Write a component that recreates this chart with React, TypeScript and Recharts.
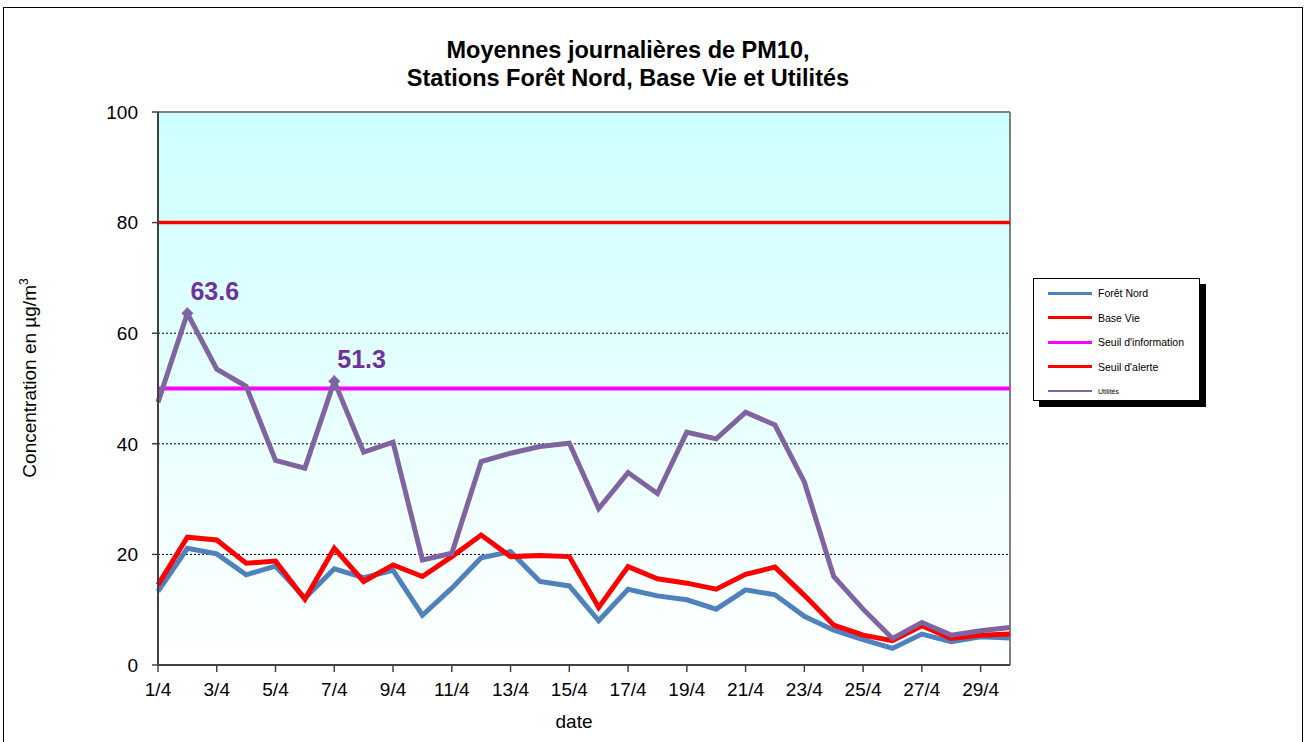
import { LineChart, Line, XAxis, YAxis, CartesianGrid, ReferenceLine } from "recharts"

const days = [
  "1/4", "2/4", "3/4", "4/4", "5/4", "6/4", "7/4", "8/4", "9/4", "10/4",
  "11/4", "12/4", "13/4", "14/4", "15/4", "16/4", "17/4", "18/4", "19/4", "20/4",
  "21/4", "22/4", "23/4", "24/4", "25/4", "26/4", "27/4", "28/4", "29/4", "30/4",
]

const foretNord = [
  13.3, 21.1, 20.1, 16.3, 17.9, 12.1, 17.4, 15.8, 17.1, 9.0,
  13.9, 19.4, 20.5, 15.1, 14.3, 8.0, 13.7, 12.5, 11.8, 10.1,
  13.6, 12.7, 8.8, 6.3, 4.6, 3.0, 5.6, 4.2, 5.1, 4.9,
]

const baseVie = [
  14.5, 23.1, 22.6, 18.4, 18.8, 11.9, 21.1, 15.1, 18.1, 16.0,
  19.6, 23.5, 19.6, 19.8, 19.6, 10.4, 17.8, 15.6, 14.8, 13.7,
  16.4, 17.7, 12.6, 7.2, 5.4, 4.4, 7.1, 4.8, 5.4, 5.6,
]

const utilites = [
  47.5, 63.6, 53.5, 50.4, 37.0, 35.6, 51.3, 38.5, 40.3, 19.0,
  20.2, 36.8, 38.3, 39.5, 40.1, 28.3, 34.8, 31.0, 42.1, 40.9,
  45.7, 43.4, 33.1, 16.0, 10.1, 4.8, 7.7, 5.4, 6.2, 6.8,
]

const labeledDays = ["2/4", "7/4"]
const yTicks = [0, 20, 40, 60, 80, 100]
const seuilInformation = 50
const seuilAlerte = 80

const legendItems = [
  { name: "Forêt Nord", color: "#4F81BD" },
  { name: "Base Vie", color: "#FF0000" },
  { name: "Seuil d'information", color: "#FF00FF" },
  { name: "Seuil d'alerte", color: "#FF0000" },
  { name: "Utilités", color: "#8064A2", small: true },
]

const data = days.map((day, i) => ({
  day,
  foretNord: foretNord[i],
  baseVie: baseVie[i],
  utilites: utilites[i],
}))

const font = "'Liberation Sans', Arial, sans-serif"

// diamond marker + value only on the annotated peaks
function PeakDot(props: any) {
  const { cx, cy, payload, value } = props
  if (!labeledDays.includes(payload.day)) return <g key={payload.day} />
  const s = 6
  return (
    <g key={payload.day}>
      <path d={`M${cx},${cy - s} L${cx + s},${cy} L${cx},${cy + s} L${cx - s},${cy} Z`} fill="#8064A2" />
      <text x={cx + 3} y={cy - 13} fill="#7030A0" fontSize={25} fontWeight="bold" fontFamily={font}>
        {value.toFixed(1)}
      </text>
    </g>
  )
}

function ChartLegend() {
  return (
    <div
      style={{
        position: "absolute",
        left: 1033,
        top: 278,
        width: 167,
        height: 123,
        border: "1px solid #000",
        background: "#fff",
        boxShadow: "6px 6px 0 #000",
        fontFamily: font,
        paddingTop: 2,
        boxSizing: "border-box",
      }}
    >
      {legendItems.map((item) => (
        <div key={item.name} style={{ display: "flex", alignItems: "center", height: 24.5, paddingLeft: 14 }}>
          <div style={{ width: 44, height: item.small ? 2 : 3, background: item.color, marginRight: 6 }} />
          <span style={{ fontSize: item.small ? 7 : 10.5, color: "#000" }}>{item.name}</span>
        </div>
      ))}
    </div>
  )
}

export default function App() {
  return (
    <div style={{ position: "relative", width: 1304, height: 742, overflow: "hidden", background: "#fff" }}>
      <style>{"body{margin:0}"}</style>
      <div
        style={{
          position: "absolute",
          left: 3,
          top: 7,
          width: 1300,
          height: 760,
          border: "1px solid #000",
          boxSizing: "border-box",
        }}
      />
      <div
        style={{
          position: "absolute",
          left: 0,
          width: 1256,
          top: 36,
          textAlign: "center",
          fontFamily: font,
          fontWeight: "bold",
          fontSize: 23.5,
          lineHeight: "28px",
          color: "#000",
        }}
      >
        Moyennes journalières de PM10,
        <br />
        Stations Forêt Nord, Base Vie et Utilités
      </div>
      <div
        style={{
          position: "absolute",
          left: 29,
          top: 378,
          transform: "translate(-50%, -50%) rotate(-90deg)",
          whiteSpace: "nowrap",
          fontFamily: font,
          fontSize: 19,
          color: "#000",
        }}
      >
        Concentration en µg/m<sup style={{ fontSize: 12 }}>3</sup>
      </div>
      <div
        style={{
          position: "absolute",
          left: 574,
          top: 722,
          transform: "translate(-50%, -50%)",
          fontFamily: font,
          fontSize: 19,
          color: "#000",
        }}
      >
        date
      </div>
      <LineChart
        width={1304}
        height={742}
        data={data}
        margin={{ top: 112, right: 294, bottom: 27, left: 98 }}
        style={{ position: "absolute", left: 0, top: 0 }}
      >
        <defs>
          <linearGradient id="plotBg" x1="0" y1="0" x2="0" y2="1">
            <stop offset="0%" stopColor="#CCFFFF" />
            <stop offset="100%" stopColor="#FFFFFF" />
          </linearGradient>
        </defs>
        <CartesianGrid
          vertical={false}
          stroke="#000"
          strokeDasharray="2 2"
          fill="url(#plotBg)"
          fillOpacity={1}
        />
        <XAxis
          dataKey="day"
          interval={1}
          tickSize={7}
          tickMargin={11}
          height={50}
          axisLine={{ stroke: "#404040", strokeWidth: 2 }}
          tickLine={{ stroke: "#404040", strokeWidth: 1.5 }}
          tick={{ fontSize: 19, fill: "#000", fontFamily: font }}
        />
        <YAxis
          domain={[0, 100]}
          ticks={yTicks}
          width={60}
          tickSize={6}
          tickMargin={14}
          axisLine={{ stroke: "#404040", strokeWidth: 2 }}
          tickLine={{ stroke: "#404040", strokeWidth: 1.5 }}
          tick={{ fontSize: 19, fill: "#000", fontFamily: font }}
        />
        <ReferenceLine y={100} stroke="#808080" strokeWidth={2} />
        <ReferenceLine x={days[days.length - 1]} stroke="#808080" strokeWidth={2} />
        <ReferenceLine y={seuilAlerte} stroke="#FF0000" strokeWidth={3.5} />
        <ReferenceLine y={seuilInformation} stroke="#FF00FF" strokeWidth={4} />
        <Line
          dataKey="foretNord"
          stroke="#4F81BD"
          strokeWidth={5}
          dot={false}
          isAnimationActive={false}
        />
        <Line
          dataKey="baseVie"
          stroke="#FF0000"
          strokeWidth={5}
          dot={false}
          isAnimationActive={false}
        />
        <Line
          dataKey="utilites"
          stroke="#8064A2"
          strokeWidth={5}
          dot={PeakDot}
          activeDot={false}
          isAnimationActive={false}
        />
      </LineChart>
      <ChartLegend />
    </div>
  )
}
